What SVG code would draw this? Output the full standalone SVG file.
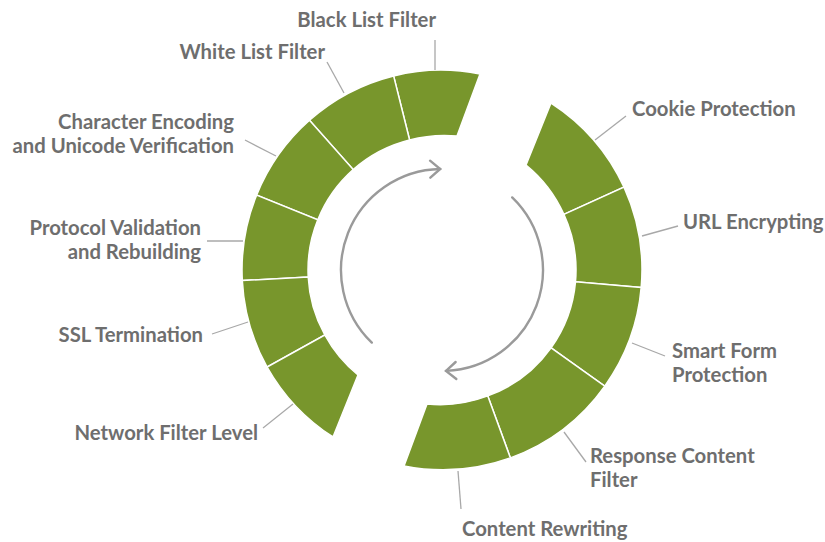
<svg xmlns="http://www.w3.org/2000/svg" width="825" height="542" viewBox="0 0 825 542">
<style>
.seg{fill:#78962c;stroke:#ffffff;stroke-width:1.5;stroke-linejoin:miter}
.lbl{font-family:"Lato","Open Sans","DejaVu Sans",sans-serif;font-weight:700;font-size:20.3px;fill:#6e6e6e}
.end{text-anchor:end}
.lead{stroke:#a8a8a8;stroke-width:1.3;fill:none}
.cyc{stroke:#9a9a9a;stroke-width:2.4;fill:none;stroke-linecap:round}
</style>
<defs>
<marker id="chev" markerUnits="userSpaceOnUse" viewBox="-14 -11 16 22" refX="0" refY="0" markerWidth="16" markerHeight="22" orient="auto" overflow="visible">
<path d="M -10 -8.5 L 0 0 L -10 8.5" fill="none" stroke="#9a9a9a" stroke-width="2.4" stroke-linecap="round" stroke-linejoin="miter"/>
</marker>
</defs>
<rect width="825" height="542" fill="#ffffff"/>

<g id="node-black-list">
<path class="seg" d="M 393.6 75.9 A 200 200 0 0 1 480 74 L 457 136 A 134 134 0 0 0 409.6 140 Z"/>
<text class="lbl end" x="436" y="27">Black List Filter</text>
</g>
<g id="node-white-list">
<path class="seg" d="M 309.5 120.2 A 200 200 0 0 1 393.6 75.9 L 409.6 140 A 134 134 0 0 0 353.2 169.6 Z"/>
<text class="lbl end" x="325" y="59">White List Filter</text>
</g>
<g id="node-character-encoding">
<path class="seg" d="M 256.6 195.1 A 200 200 0 0 1 309.5 120.2 L 353.2 169.6 A 134 134 0 0 0 317.8 219.8 Z"/>
<text class="lbl end" x="234" y="129">Character Encoding</text>
<text class="lbl end" x="234" y="153">and Unicode Verification</text>
</g>
<g id="node-protocol-validation">
<path class="seg" d="M 242.3 280.5 A 200 200 0 0 1 256.6 195.1 L 317.8 219.8 A 134 134 0 0 0 308.2 277 Z"/>
<text class="lbl end" x="201" y="235">Protocol Validation</text>
<text class="lbl end" x="201" y="259">and Rebuilding</text>
</g>
<g id="node-ssl-termination">
<path class="seg" d="M 267.1 367 A 200 200 0 0 1 242.3 280.5 L 308.2 277 A 134 134 0 0 0 324.8 335 Z"/>
<text class="lbl end" x="203" y="342">SSL Termination</text>
</g>
<g id="node-network-filter">
<path class="seg" d="M 333 437 A 200 200 0 0 1 267.1 367 L 324.8 335 A 134 134 0 0 0 358 375 Z"/>
<text class="lbl end" x="258" y="440">Network Filter Level</text>
</g>
<g id="node-cookie-protection">
<path class="seg" d="M 551 103 A 200 200 0 0 1 624 187.1 L 563.9 214.4 A 134 134 0 0 0 526 165 Z"/>
<text class="lbl" x="632" y="116">Cookie Protection</text>
</g>
<g id="node-url-encrypting">
<path class="seg" d="M 624 187.1 A 200 200 0 0 1 641.2 287.4 L 575.5 281.7 A 134 134 0 0 0 563.9 214.4 Z"/>
<text class="lbl" x="683" y="229">URL Encrypting</text>
</g>
<g id="node-smart-form">
<path class="seg" d="M 641.2 287.4 A 200 200 0 0 1 604.8 386.1 L 551.1 347.8 A 134 134 0 0 0 575.5 281.7 Z"/>
<text class="lbl" x="672" y="358">Smart Form</text>
<text class="lbl" x="672" y="382">Protection</text>
</g>
<g id="node-response-content">
<path class="seg" d="M 604.8 386.1 A 200 200 0 0 1 510.4 457.9 L 487.8 395.9 A 134 134 0 0 0 551.1 347.8 Z"/>
<text class="lbl" x="590" y="463">Response Content</text>
<text class="lbl" x="590" y="487">Filter</text>
</g>
<g id="node-content-rewriting">
<path class="seg" d="M 510.4 457.9 A 200 200 0 0 1 404 466 L 427 404 A 134 134 0 0 0 487.8 395.9 Z"/>
<text class="lbl" x="462" y="536">Content Rewriting</text>
</g>

<g id="connectors">
<line class="lead" x1="435" y1="40" x2="435" y2="70"/>
<line class="lead" x1="327" y1="62" x2="344" y2="93"/>
<line class="lead" x1="245" y1="140" x2="276" y2="156"/>
<line class="lead" x1="207" y1="241" x2="243" y2="241"/>
<line class="lead" x1="212" y1="334" x2="248" y2="322"/>
<line class="lead" x1="263" y1="428" x2="293" y2="404"/>
<line class="lead" x1="626" y1="116" x2="595" y2="140"/>
<line class="lead" x1="678" y1="226" x2="642" y2="236"/>
<line class="lead" x1="665" y1="356" x2="632" y2="343"/>
<line class="lead" x1="586" y1="462" x2="564" y2="432"/>
<line class="lead" x1="461" y1="509" x2="458" y2="471"/>
</g>

<g id="cycle-arrows">
<path class="cyc" d="M 371.8 342.6 A 101 101 0 0 1 440.2 169" marker-end="url(#chev)"/>
<path class="cyc" d="M 512.2 197.4 A 101 101 0 0 1 446 370.9" marker-end="url(#chev)"/>
</g>
</svg>
